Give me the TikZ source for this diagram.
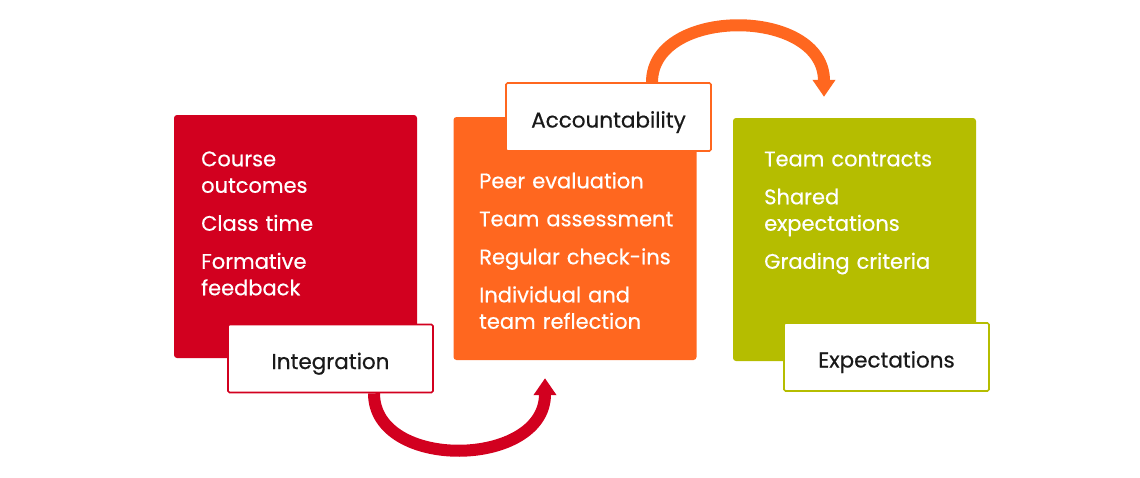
\documentclass[tikz,border=0pt]{standalone}
\usepackage{fontspec}
\setmainfont{Poppins}
\newfontfamily\stagefont{Poppins}[FakeBold=0.5]
\usepackage{xcolor}
\usetikzlibrary{arrows.meta, positioning, calc}
\definecolor{teamred}{HTML}{D2001F}
\definecolor{teamorange}{HTML}{FF671F}
\definecolor{teamgreen}{HTML}{B5BD00}
\newcommand{\boxitemfont}{\stagefont\fontsize{21}{26.5}\selectfont}
\newcommand{\boxtagfont}{\stagefont\fontsize{21.5}{26.5}\selectfont}

\begin{document}
\begin{tikzpicture}[x=1pt, y=-1pt,
    stagebox/.style={rounded corners=3pt, minimum width=243pt, minimum height=243pt, inner sep=0pt},
    tagbox/.style={draw, line width=1.6pt, fill=white, rounded corners=1.5pt, minimum width=205pt, minimum height=68pt, inner sep=0pt, text height=21pt, text depth=0pt, text=black!90, font=\boxtagfont},
    itemlist/.style={anchor=north west, inner sep=0pt, text width=215pt, align=left, text=white, font=\boxitemfont},
    looparrow/.style={line width=12pt, -{Triangle[length=17pt, width=22pt]}},
    ]
    \useasboundingbox (0,0) rectangle (1140,477);

    % The three stage boxes
    \node[stagebox, fill=teamred] (integ) at (295.5,236.5) {};
    \node[stagebox, fill=teamorange] (account) at (575,238.5) {};
    \node[stagebox, fill=teamgreen] (expect) at (854.5,239.5) {};

    % Item lists inside the boxes
    \node[itemlist] (integ items) at (201,147.5) {\strut Course\\outcomes\\[11.5pt]Class time\\[11.5pt]Formative\\feedback};
    \node[itemlist] (account items) at (479,169.5) {\strut Peer evaluation\\[11.5pt]Team assessment\\[11.5pt]Regular check-ins\\[11.5pt]Individual and\\team reflection};
    \node[itemlist] (expect items) at (764,147.5) {\strut Team contracts\\[11.5pt]Shared\\expectations\\[11.5pt]Grading criteria};

    % Tags on the boxes
    \node[tagbox, draw=teamred] (integ tag) at (330.5,358.5) {Integration};
    \node[tagbox, draw=teamorange] (account tag) at (608.5,117) {Accountability};
    \node[tagbox, draw=teamgreen] (expect tag) at (886.5,357) {Expectations};

    % Loop arrows between the stages
    \coordinate (redtip) at ([xshift=-30pt, yshift=-18pt]account.south);
    \coordinate (orangetip) at ([xshift=-30.5pt, yshift=21pt]expect.north);
    \draw[looparrow, teamred] ([xshift=43.5pt]integ tag.south) .. controls +(0,78) and +(0,90) .. (redtip);
    \draw[looparrow, teamorange] ([xshift=43.5pt]account tag.north) .. controls +(0,-76) and +(0,-90) .. (orangetip);
\end{tikzpicture}
\end{document}
